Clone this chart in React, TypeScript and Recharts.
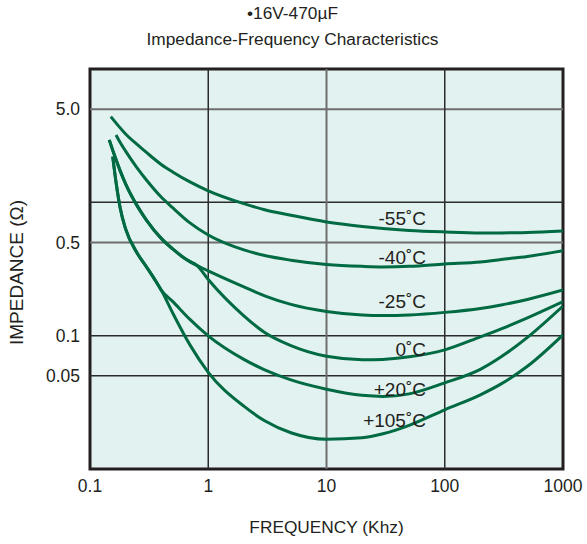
import React from "react";
import {
  LineChart,
  Line,
  XAxis,
  YAxis,
  CartesianGrid,
  ReferenceLine,
  ReferenceArea,
} from "recharts";

// axis ticks and grid positions
const freqTicks = [0.1, 1, 10, 100, 1000];
const impTicks = [5, 0.5, 0.1, 0.05];
const gridZ = [5, 1, 0.5, 0.1, 0.05];
const gridF = [1, 10, 100];
const darkGridZ = [1, 0.1, 0.05];
const darkGridF = [1, 100];

// curves (frequency in kHz, impedance in ohm)
const fM55 = [0.15, 0.2, 0.25, 0.3, 0.4, 0.5, 0.7, 1, 2, 3, 5, 10, 20, 30, 50, 100, 200, 300, 500, 1000];
const zM55 = [4.39, 3.257, 2.716, 2.366, 1.923, 1.69, 1.422, 1.22, 0.977, 0.88, 0.8, 0.713, 0.66, 0.637, 0.616, 0.6, 0.59, 0.59, 0.595, 0.61];

const fM40 = [0.166, 0.18, 0.2, 0.25, 0.3, 0.4, 0.5, 0.7, 1, 2, 3, 5, 10, 20, 30, 50, 100, 200, 300, 500, 1000];
const zM40 = [3.2, 2.808, 2.42, 1.814, 1.472, 1.096, 0.911, 0.701, 0.569, 0.44, 0.399, 0.368, 0.342, 0.331, 0.328, 0.331, 0.345, 0.357, 0.373, 0.393, 0.434];

const fM25 = [0.1455, 0.16, 0.18, 0.2, 0.25, 0.3, 0.4, 0.5, 0.6, 0.7, 0.8, 1, 2, 3, 5, 10, 20, 30, 50, 100, 200, 300, 500, 1000];
const zM25 = [2.94, 2.29, 1.722, 1.376, 0.9447, 0.7365, 0.5364, 0.4474, 0.393, 0.3593, 0.337, 0.306, 0.232, 0.199, 0.1716, 0.152, 0.143, 0.1416, 0.143, 0.1495, 0.16, 0.17, 0.187, 0.22];

const f0 = [0.1455, 0.16, 0.18, 0.2, 0.25, 0.3, 0.4, 0.5, 0.6, 0.7, 0.8, 1, 2, 3, 5, 10, 20, 30, 50, 100, 200, 300, 500, 1000];
const z0 = [2.94, 2.29, 1.722, 1.376, 0.9447, 0.7365, 0.5364, 0.4474, 0.393, 0.3593, 0.337, 0.2634, 0.1407, 0.1055, 0.0841, 0.07, 0.0661, 0.0664, 0.0694, 0.0783, 0.098, 0.1125, 0.136, 0.18];

const fP20 = [0.1556, 0.165, 0.18, 0.2, 0.25, 0.3, 0.35, 0.4, 0.5, 0.7, 1, 2, 3, 5, 10, 20, 30, 50, 100, 200, 300, 500, 1000];
const zP20 = [2.2, 1.472, 0.908, 0.632, 0.4175, 0.328, 0.2666, 0.22, 0.1807, 0.1325, 0.0997, 0.0664, 0.0554, 0.0466, 0.0397, 0.0357, 0.035, 0.0366, 0.0443, 0.0559, 0.0694, 0.0971, 0.167];

const fP105 = [0.1556, 0.165, 0.18, 0.2, 0.25, 0.3, 0.35, 0.4, 0.5, 0.7, 1, 2, 3, 5, 10, 20, 30, 50, 100, 200, 300, 500, 1000];
const zP105 = [2.2, 1.472, 0.908, 0.632, 0.4175, 0.328, 0.2666, 0.22, 0.1483, 0.0853, 0.0531, 0.0296, 0.023, 0.0187, 0.0167, 0.01713, 0.01836, 0.02127, 0.0278, 0.036, 0.0435, 0.0589, 0.1014];

const tempLabels = ["-55˚C", "-40˚C", "-25˚C", "0˚C", "+20˚C", "+105˚C"];

const zip = (f: number[], z: number[]) => f.map((v, i) => ({ f: v, z: z[i] }));

const curves = [
  zip(fM55, zM55),
  zip(fM40, zM40),
  zip(fM25, zM25),
  zip(f0, z0),
  zip(fP20, zP20),
  zip(fP105, zP105),
];

const FONT = "'Liberation Sans', Arial, Helvetica, sans-serif";
const INK = "#231f20";
const GREEN = "#006a43";
const labelBaselines = [225, 263.5, 308, 356, 396, 426.5];

const App: React.FC = () => {
  return (
    <div style={{ position: "absolute", left: 0, top: 0, width: 587, height: 544, background: "#fff" }}>
      <LineChart
        width={587}
        height={544}
        margin={{ top: 69, right: 24, bottom: 45, left: 10 }}
      >
        <CartesianGrid horizontal={false} vertical={false} fill="#e2f2f0" />
        <XAxis
          dataKey="f"
          type="number"
          scale="log"
          domain={[0.1, 1000]}
          ticks={freqTicks}
          interval={0}
          allowDataOverflow
          axisLine={false}
          tickLine={false}
          tickSize={0}
          tickMargin={11}
          height={30}
          tick={{ fontSize: 17.5, fill: INK, fontFamily: FONT }}
          tickFormatter={(v: number) => String(v)}
        />
        <YAxis
          type="number"
          scale="log"
          domain={[0.01, 10]}
          ticks={impTicks}
          interval={0}
          allowDataOverflow
          axisLine={false}
          tickLine={false}
          tickSize={0}
          tickMargin={10}
          width={80}
          tick={{ fontSize: 17.5, fill: INK, fontFamily: FONT }}
          tickFormatter={(v: number) => (v === 5 ? "5.0" : String(v))}
        />
        {gridZ.map((z) => (
          <ReferenceLine
            key={"gz" + z}
            y={z}
            stroke={darkGridZ.includes(z) ? "#2b2b2b" : "#6e6e6e"}
            strokeWidth={darkGridZ.includes(z) ? 1.5 : 2}
          />
        ))}
        {gridF.map((f) => (
          <ReferenceLine
            key={"gf" + f}
            x={f}
            stroke={darkGridF.includes(f) ? "#2b2b2b" : "#6e6e6e"}
            strokeWidth={darkGridF.includes(f) ? 1.5 : 2}
          />
        ))}
        {curves.map((d, i) => (
          <Line
            key={i}
            data={d}
            dataKey="z"
            type="monotone"
            stroke={GREEN}
            strokeWidth={3}
            dot={false}
            activeDot={false}
            isAnimationActive={false}
          />
        ))}
        <ReferenceArea
          x1={0.1}
          x2={1000}
          y1={0.01}
          y2={10}
          fill="none"
          stroke={INK}
          strokeWidth={3}
        />
      </LineChart>
      <svg
        width={587}
        height={544}
        style={{ position: "absolute", left: 0, top: 0, pointerEvents: "none" }}
        fontFamily={FONT}
        fill={INK}
      >
        <text x={292.5} y={18.5} fontSize={17.3} textAnchor="middle">
          •16V-470µF
        </text>
        <text x={292.5} y={45} fontSize={17.3} textAnchor="middle">
          Impedance-Frequency Characteristics
        </text>
        <text x={326.5} y={533} fontSize={17.3} textAnchor="middle">
          FREQUENCY (Khz)
        </text>
        <text
          x={22.5}
          y={272.5}
          fontSize={19}
          textAnchor="middle"
          transform="rotate(-90 22.5 272.5)"
        >
          IMPEDANCE (Ω)
        </text>
        {tempLabels.map((t, i) => (
          <text key={t} x={426} y={labelBaselines[i]} fontSize={19} textAnchor="end">
            {t}
          </text>
        ))}
      </svg>
    </div>
  );
};

export default App;
